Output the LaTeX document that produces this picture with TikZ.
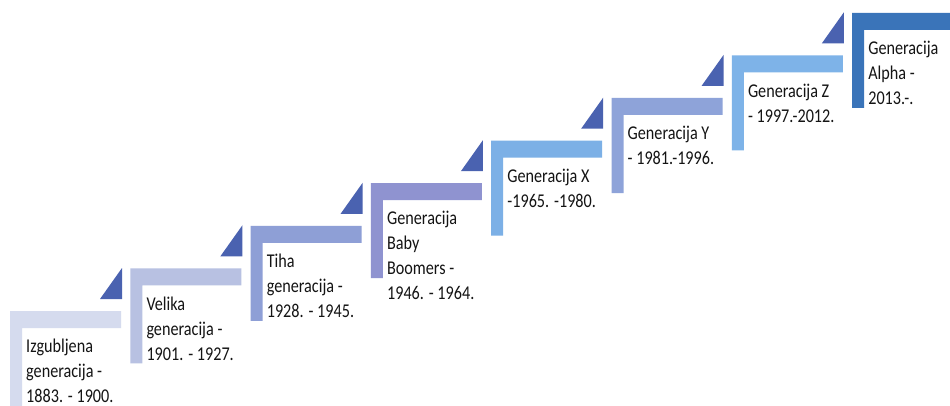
\documentclass[tikz,border=0pt]{standalone}
\usepackage{fontspec}
\setmainfont{Carlito}[FakeStretch=0.83]
\usepackage{tikz}
\usetikzlibrary{positioning}
\definecolor{stA}{RGB}{213, 219, 238}
\definecolor{stB}{RGB}{184, 193, 226}
\definecolor{stC}{RGB}{142, 159, 214}
\definecolor{stD}{RGB}{143, 147, 208}
\definecolor{stE}{RGB}{124, 176, 230}
\definecolor{stF}{RGB}{142, 163, 217}
\definecolor{stG}{RGB}{126, 179, 232}
\definecolor{stH}{RGB}{58, 116, 185}
\definecolor{tri}{RGB}{74, 98, 176}
\definecolor{ink}{RGB}{20, 20, 20}
\tikzstyle{steptext} = [anchor=north west, inner sep=0pt, align=left, text=ink, font=\fontsize{19.5}{25}\selectfont]
\tikzstyle{marker} = [fill=tri]

\begin{document}
\begin{tikzpicture}[x=1pt, y=1pt]
\useasboundingbox (0,0) rectangle (950,405);
\clip (0,0) rectangle (950,405);
\fill[white] (0,0) rectangle (950,405);

% steps =============================
\foreach \i/\col/\txt in {
  0/stA/{Izgubljena\\generacija -\\1883. - 1900.},
  1/stB/{Velika\\generacija -\\1901. - 1927.},
  2/stC/{Tiha\\generacija -\\1928. - 1945.},
  3/stD/{Generacija\\Baby\\Boomers -\\1946. - 1964.},
  4/stE/{Generacija X\\-1965. -1980.},
  5/stF/{Generacija Y\\- 1981.-1996.},
  6/stG/{Generacija Z\\- 1997.-2012.},
  7/stH/{Generacija\\Alpha -\\2013.-.}}
{
  \pgfmathsetmacro\lx{10+120.3*\i}
  \pgfmathsetmacro\ty{94+42.6*\i}
  \fill[\col] (\lx,\ty) -- ++(111,0) -- ++(0,-17) -- ++(-99,0) -- ++(0,-78) -- ++(-12,0) -- cycle;
  \node[steptext] (gen\i) at (\lx+16,\ty-28) {\txt};
}

% markers
\foreach \i in {0,...,6}
{
  \pgfmathsetmacro\lx{10+120.3*\i}
  \pgfmathsetmacro\ty{94+42.6*\i}
  \fill[marker] (\lx+90,\ty+12) -- (\lx+112,\ty+12) -- (\lx+112,\ty+43) -- cycle;
}

\end{tikzpicture}
\end{document}
